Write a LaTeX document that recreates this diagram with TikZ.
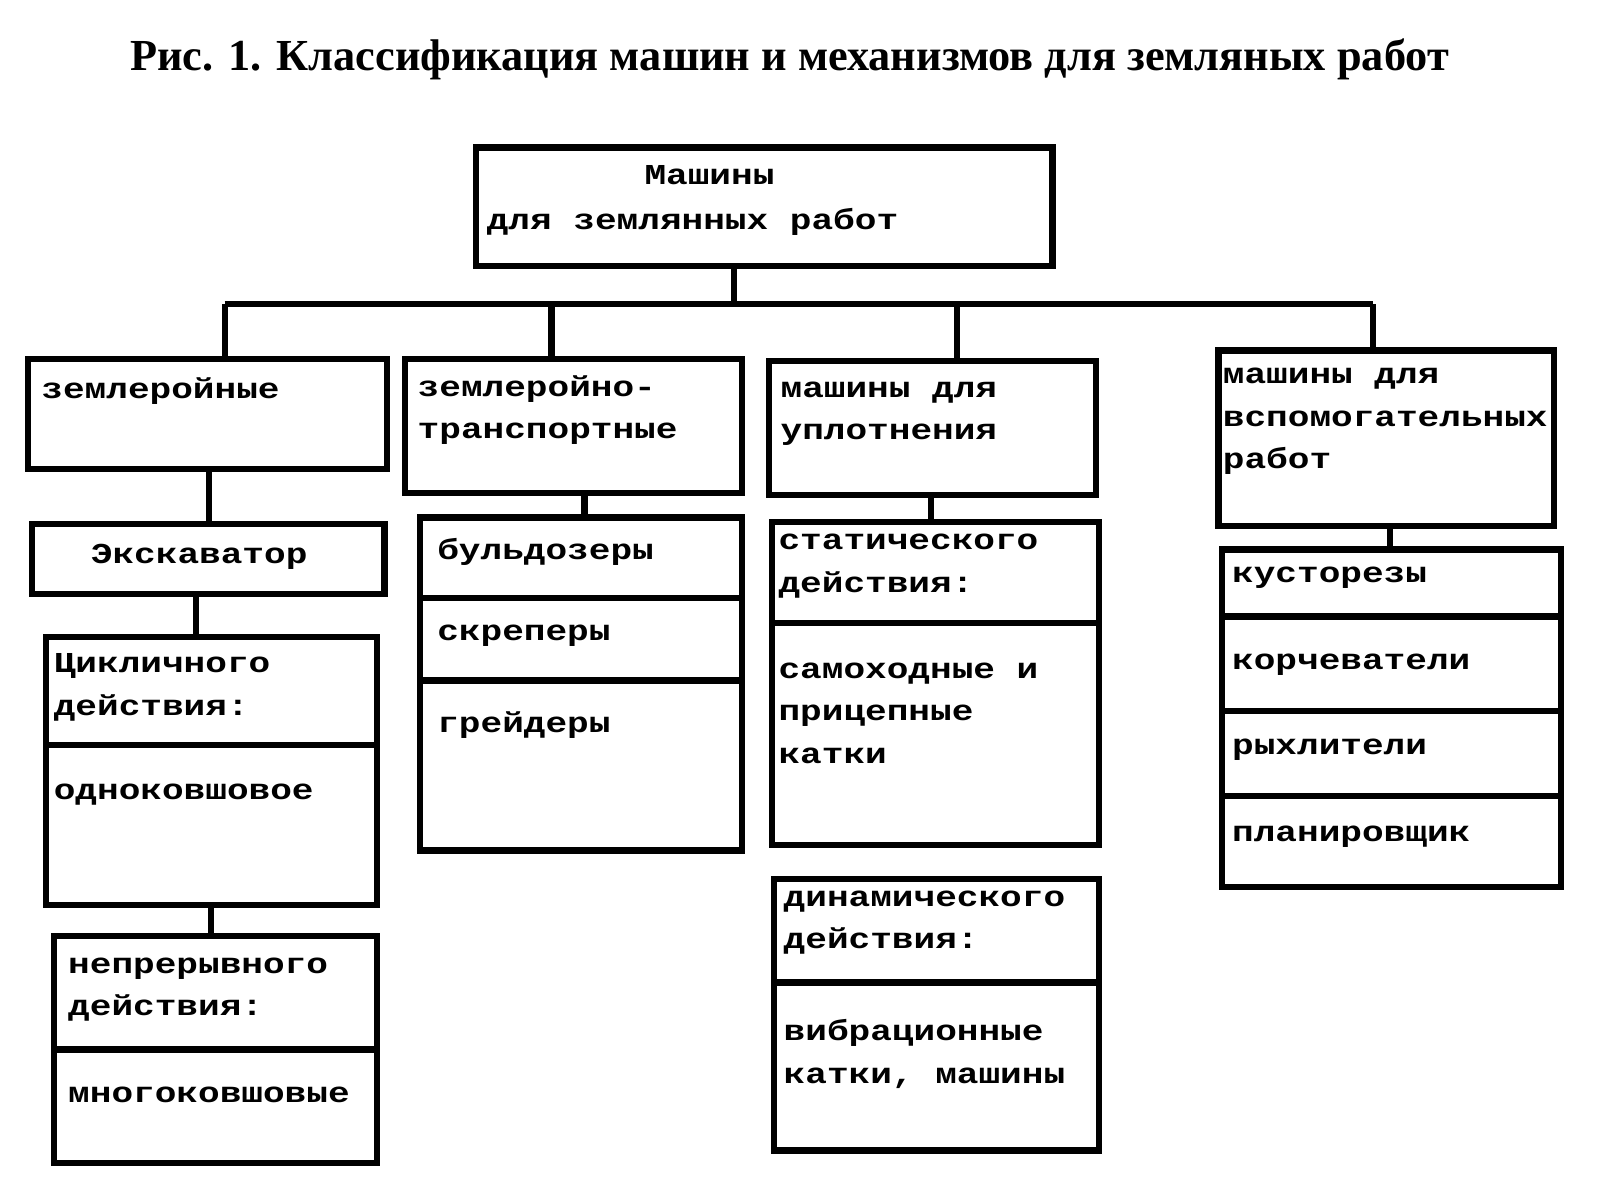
\documentclass[tikz,border=0pt]{standalone}
\usepackage{fontspec}
\setmainfont{Liberation Serif}
\newfontfamily\boxfont[FakeStretch=1.25]{Liberation Mono}
\begin{document}
\begin{tikzpicture}[x=1pt,y=-1pt,
  bx/.style={draw,line width=6pt},
  ln/.style={line width=6pt},
  tx/.style={anchor=north west,inner sep=0pt,font=\boxfont\bfseries\fontsize{28}{41}\selectfont,align=left}]
\useasboundingbox (0,0) rectangle (1552,1164);
\node[font=\bfseries\fontsize{43}{48}\selectfont] (title) at (766,58) {Рис. 1. Классификация машин и механизмов для земляных работ};
% top
\draw[bx] (462,143) rectangle (1021,258);
\node[tx] (t1) at (625,160) {Машины};
\node[tx] (t2) at (472,202) {для землянных работ};
\coordinate (top) at (712,258); \coordinate (bus) at (712,295);
\draw[ln] (top) -- (bus);
\draw[ln] (218,295) -- (1332,295);
\draw[ln] (218,295) -- (218,348);
\draw[ln] (535,295) -- (535,348);
\draw[ln] (928,295) -- (928,350);
\draw[ln] (1332,295) -- (1332,340);
% A
\draw[bx] (27,348) rectangle (375,455);
\node[tx] (a) at (40,366) {землеройные};
\draw[ln] (203,455) -- (203,508);
\draw[bx] (31,508) rectangle (373,576);
\node[tx] (ex) at (88,528) {Экскаватор};
\draw[ln] (190,576) -- (190,618);
\draw[bx] (45,618) rectangle (366,878);
\draw[ln] (45,723) -- (366,723);
\node[tx] (c1) at (52,634) {Цикличного\\действия:};
\node[tx] (c2) at (52,760) {одноковшовое};
\draw[ln] (205,878) -- (205,908);
\draw[bx] (52,908) rectangle (366,1128);
\draw[ln] (52,1018) -- (366,1018);
\node[tx] (n1) at (66,929) {непрерывного\\действия:};
\node[tx] (n2) at (66,1054) {многоковшовые};
% B
\draw[bx] (393,348) rectangle (720,478);
\node[tx] (b) at (405,364) {землеройно-\\ транспортные};
\draw[ln] (567,478) -- (567,502);
\draw[bx] (407,502) rectangle (720,825);
\draw[ln] (407,580) -- (720,580);
\draw[ln] (407,660) -- (720,660);
\node[tx] (b1) at (424,522) {бульдозеры};
\node[tx] (b2) at (424,606) {скреперы};
\node[tx] (b3) at (424,690) {грейдеры};
% C
\draw[bx] (746,350) rectangle (1063,480);
\node[tx] (c) at (757,370) {машины для\\уплотнения};
\draw[ln] (903,480) -- (903,506);
\draw[bx] (749,506) rectangle (1066,820);
\draw[ln] (749,604) -- (1066,604);
\node[tx] (s1) at (755,518) {статического\\ действия:};
\node[tx] (s2) at (755,643) {самоходные и\\прицепные\\катки};
\draw[bx] (751,853) rectangle (1066,1116);
\draw[ln] (751,953) -- (1066,953);
\node[tx] (d1) at (760,864) {динамического\\действия:};
\node[tx] (d2) at (760,989) {вибрационные\\катки, машины};
% D
\begin{scope}
\clip (1185,343) rectangle (1504,507);
\node[tx] (d) at (1186,357) {машины для\\вспомогательных\\работ};
\end{scope}
\draw[bx] (1182,340) rectangle (1507,510);
\draw[ln] (1348,510) -- (1348,533);
\draw[bx] (1185,533) rectangle (1514,860);
\draw[ln] (1185,598) -- (1514,598);
\draw[ln] (1185,690) -- (1514,690);
\draw[ln] (1185,772) -- (1514,772);
\node[tx] (e1) at (1195,550) {кусторезы};
\node[tx] (e2) at (1195,634) {корчеватели};
\node[tx] (e3) at (1195,717) {рыхлители};
\node[tx] (e4) at (1195,801) {планировщик};
\end{tikzpicture}
\end{document}
